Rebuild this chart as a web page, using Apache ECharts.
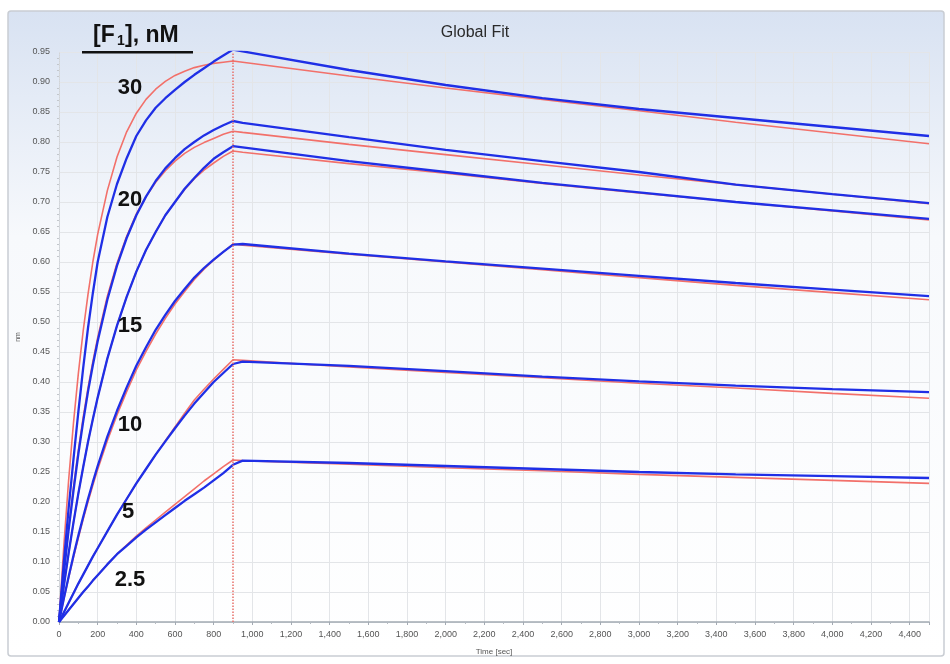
<!DOCTYPE html>
<html>
<head>
<meta charset="utf-8">
<script src="https://cdn.jsdelivr.net/npm/echarts@6/dist/echarts.min.js"></script>
<style>
  html, body { margin: 0; padding: 0; background: #fff; }
  #chart { width: 950px; height: 664px; }
</style>
</head>
<body>
<div id="chart"></div>
<script>
// time points (sec), shared by every trace
var times = [0, 25, 50, 75, 100, 125, 150, 175, 200, 250, 300, 350, 400, 450, 500, 550, 600, 650,
  700, 750, 800, 850, 900, 950, 1500, 2000, 2500, 3000, 3500, 4000, 4500];

// red = global fit, blue = measured response (nm)
var fit30 = [0, 0.127, 0.237, 0.332, 0.414, 0.485, 0.546, 0.600, 0.646, 0.719, 0.775, 0.817, 0.848, 0.871, 0.888, 0.901, 0.911, 0.918,
  0.924, 0.928, 0.931, 0.933, 0.935, 0.933, 0.910, 0.890, 0.871, 0.852, 0.833, 0.815, 0.797];
var raw30 = [0, 0.100, 0.190, 0.272, 0.350, 0.423, 0.490, 0.548, 0.600, 0.675, 0.730, 0.773, 0.810, 0.836, 0.857, 0.873, 0.887, 0.900,
  0.912, 0.923, 0.934, 0.944, 0.954, 0.951, 0.920, 0.895, 0.873, 0.855, 0.840, 0.825, 0.810];
var fit20 = [0, 0.083, 0.158, 0.225, 0.286, 0.341, 0.390, 0.434, 0.474, 0.543, 0.598, 0.643, 0.680, 0.709, 0.733, 0.752, 0.768, 0.781,
  0.791, 0.799, 0.806, 0.813, 0.818, 0.816, 0.796, 0.779, 0.762, 0.745, 0.729, 0.713, 0.697];
var raw20 = [0, 0.081, 0.154, 0.219, 0.280, 0.334, 0.384, 0.428, 0.468, 0.537, 0.594, 0.640, 0.678, 0.709, 0.735, 0.756, 0.773, 0.788,
  0.800, 0.811, 0.820, 0.828, 0.835, 0.832, 0.808, 0.787, 0.768, 0.750, 0.729, 0.713, 0.698];
var fit15 = [0, 0.059, 0.115, 0.166, 0.214, 0.258, 0.300, 0.338, 0.374, 0.439, 0.494, 0.542, 0.584, 0.620, 0.650, 0.678, 0.700, 0.721,
  0.739, 0.753, 0.765, 0.776, 0.785, 0.783, 0.764, 0.748, 0.731, 0.715, 0.700, 0.685, 0.670];
var raw15 = [0, 0.060, 0.115, 0.166, 0.214, 0.258, 0.300, 0.338, 0.374, 0.439, 0.494, 0.542, 0.584, 0.620, 0.650, 0.678, 0.700, 0.722,
  0.740, 0.757, 0.772, 0.783, 0.793, 0.791, 0.768, 0.750, 0.732, 0.716, 0.700, 0.686, 0.672];
var fit10 = [0, 0.038, 0.074, 0.108, 0.140, 0.171, 0.200, 0.228, 0.254, 0.302, 0.345, 0.384, 0.420, 0.451, 0.480, 0.506, 0.530, 0.551,
  0.571, 0.588, 0.603, 0.617, 0.630, 0.628, 0.613, 0.600, 0.587, 0.574, 0.561, 0.549, 0.537];
var raw10 = [0, 0.039, 0.076, 0.111, 0.144, 0.175, 0.205, 0.233, 0.260, 0.309, 0.352, 0.391, 0.427, 0.458, 0.487, 0.512, 0.535, 0.555,
  0.574, 0.590, 0.604, 0.617, 0.629, 0.630, 0.614, 0.601, 0.589, 0.577, 0.565, 0.554, 0.543];
var fit5 = [0, 0.016, 0.032, 0.048, 0.064, 0.079, 0.094, 0.109, 0.123, 0.151, 0.179, 0.205, 0.231, 0.255, 0.279, 0.302, 0.325, 0.348,
  0.370, 0.388, 0.405, 0.421, 0.437, 0.436, 0.425, 0.416, 0.407, 0.398, 0.390, 0.381, 0.373];
var raw5 = [0, 0.016, 0.032, 0.048, 0.064, 0.079, 0.094, 0.109, 0.123, 0.151, 0.179, 0.205, 0.231, 0.255, 0.279, 0.301, 0.323, 0.344,
  0.364, 0.382, 0.400, 0.415, 0.430, 0.434, 0.427, 0.418, 0.409, 0.401, 0.394, 0.388, 0.383];
var fit2_5 = [0, 0.010, 0.020, 0.030, 0.040, 0.050, 0.059, 0.069, 0.078, 0.096, 0.113, 0.128, 0.143, 0.157, 0.170, 0.183, 0.196, 0.209,
  0.222, 0.235, 0.247, 0.259, 0.270, 0.269, 0.263, 0.257, 0.252, 0.246, 0.241, 0.236, 0.231];
var raw2_5 = [0, 0.010, 0.020, 0.030, 0.040, 0.050, 0.059, 0.069, 0.078, 0.096, 0.113, 0.127, 0.141, 0.154, 0.166, 0.178, 0.190, 0.202,
  0.213, 0.224, 0.236, 0.248, 0.262, 0.269, 0.265, 0.260, 0.255, 0.250, 0.246, 0.243, 0.240];

var concLabels = ['30', '20', '15', '10', '5', '2.5'];
var fits = [fit30, fit20, fit15, fit10, fit5, fit2_5];
var raws = [raw30, raw20, raw15, raw10, raw5, raw2_5];
var switchTime = 900;  // association -> dissociation

function pairs(vals) {
  return times.map(function (t, i) { return [t, vals[i]]; });
}

function thousands(v) {
  return v >= 1000 ? Math.floor(v / 1000) + ',' + String(v % 1000).padStart(3, '0') : String(v);
}

var series = [];
fits.forEach(function (f, i) {
  series.push({
    name: 'fit ' + concLabels[i],
    type: 'line',
    data: pairs(f),
    showSymbol: false,
    symbol: 'none',
    lineStyle: { color: '#f2706a', width: 1.6 },
    z: 3,
    markLine: i === 0 ? {
      silent: true,
      symbol: 'none',
      label: { show: false },
      lineStyle: { color: '#e8706a', type: 'dotted', width: 1.5 },
      data: [{ xAxis: switchTime }]
    } : undefined
  });
});
raws.forEach(function (r, i) {
  series.push({
    name: 'data ' + concLabels[i],
    type: 'line',
    data: pairs(r),
    showSymbol: false,
    symbol: 'none',
    lineStyle: { color: '#1f2fe6', width: 2.3 },
    z: 4
  });
});

// concentration labels next to the association curves
var labelPos = [[130, 88], [130, 200], [130, 326], [130, 425], [128, 512], [130, 580]];
var fontBold = '"Liberation Sans", Arial, sans-serif';
var graphics = [
  {  // panel frame with light blue gradient
    type: 'rect', z: -100, silent: true,
    shape: { x: 8, y: 11, width: 936, height: 645, r: 3 },
    style: {
      stroke: '#c9cdd3', lineWidth: 1.5,
      fill: new echarts.graphic.LinearGradient(0, 0, 0, 1, [
        { offset: 0, color: '#d8e2f2' },
        { offset: 0.35, color: '#f7f9fc' },
        { offset: 1, color: '#ffffff' }
      ])
    }
  },
  // "[F1], nM" header, subscript drawn as its own smaller text
  { type: 'text', z: 10, x: 93, y: 24, style: { text: '[F', font: 'bold 23px ' + fontBold, fill: '#111' } },
  { type: 'text', z: 10, x: 117, y: 34, style: { text: '1', font: 'bold 14px ' + fontBold, fill: '#111' } },
  { type: 'text', z: 10, x: 125, y: 24, style: { text: '], nM', font: 'bold 23px ' + fontBold, fill: '#111' } },
  {
    type: 'rect', z: 10, silent: true,
    shape: { x: 82, y: 51, width: 111, height: 2.5 },
    style: { fill: '#111' }
  }
];
concLabels.forEach(function (c, i) {
  graphics.push({
    type: 'text', z: 10,
    x: labelPos[i][0], y: labelPos[i][1],
    style: {
      text: c, align: 'center', verticalAlign: 'middle',
      font: 'bold 22px ' + fontBold, fill: '#111'
    }
  });
});

var chart = echarts.init(document.getElementById('chart'));
chart.setOption({
  animation: false,
  title: {
    text: 'Global Fit', left: 'center', top: 20,
    textStyle: { fontSize: 16, fontWeight: 'normal', color: '#2a2a2a', fontFamily: '"Liberation Sans", Arial, sans-serif' }
  },
  grid: { left: 59, right: 21, top: 52, bottom: 42 },
  graphic: graphics,
  xAxis: {
    type: 'value',
    min: 0, max: 4500, interval: 200,
    name: 'Time [sec]', nameLocation: 'middle', nameGap: 26,
    nameTextStyle: { fontSize: 8, color: '#555' },
    axisLine: { lineStyle: { color: '#a3aab3', width: 1.5 } },
    axisTick: { show: true, length: 3, lineStyle: { color: '#a3aab3' } },
    minorTick: { show: true, splitNumber: 2, length: 2, lineStyle: { color: '#b5bbc2' } },
    axisLabel: { fontSize: 9, color: '#555', margin: 8, showMaxLabel: false, formatter: thousands },
    splitLine: { show: true, lineStyle: { color: '#e3e5e8' } }
  },
  yAxis: {
    type: 'value',
    min: 0, max: 0.95, interval: 0.05,
    name: 'nm', nameLocation: 'middle', nameGap: 33,
    nameTextStyle: { fontSize: 7, color: '#555' },
    axisLine: { show: true, lineStyle: { color: '#d0d4d9', type: 'dotted' } },
    axisTick: { show: false },
    minorTick: { show: true, splitNumber: 5, length: 2, lineStyle: { color: '#c3c7cc' } },
    axisLabel: { fontSize: 9, color: '#555', margin: 9, formatter: function (v) { return v.toFixed(2); } },
    splitLine: { show: true, lineStyle: { color: '#e3e5e8' } }
  },
  series: series
});
</script>
</body>
</html>
